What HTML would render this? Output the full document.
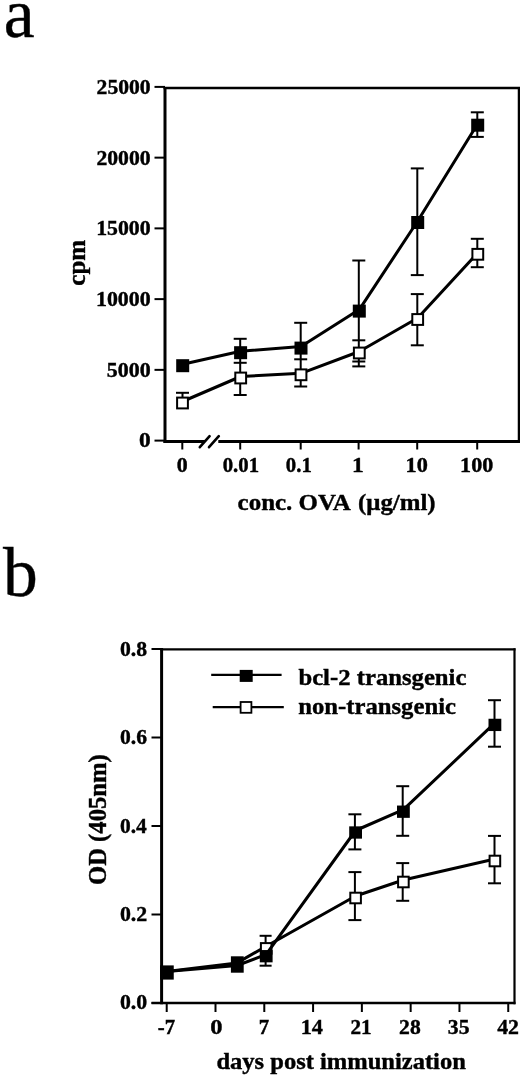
<!DOCTYPE html>
<html><head><meta charset="utf-8"><style>
html,body{margin:0;padding:0;background:#fff;}
svg{display:block;will-change:transform;}
text{font-family:"Liberation Serif",serif;fill:#000;stroke:#000;stroke-width:0.4px;}
</style></head><body>
<svg width="520" height="1077" viewBox="0 0 520 1077">
<text x="3.8" y="37.2" font-size="69.5" font-weight="normal">a</text>
<text x="2.9" y="596" font-size="69.5" font-weight="normal">b</text>
<g stroke="#000" fill="none">
<line x1="165.00" y1="87.00" x2="165.00" y2="443.00" stroke-width="3" stroke-linecap="butt"/>
<line x1="163.50" y1="88.00" x2="520.00" y2="88.00" stroke-width="2.5" stroke-linecap="butt"/>
<line x1="519.00" y1="87.00" x2="519.00" y2="443.00" stroke-width="2.5" stroke-linecap="butt"/>
<line x1="163.50" y1="441.50" x2="205.00" y2="441.50" stroke-width="3" stroke-linecap="butt"/>
<line x1="218.30" y1="441.50" x2="520.00" y2="441.50" stroke-width="3" stroke-linecap="butt"/>
<line x1="199.80" y1="447.20" x2="209.60" y2="436.20" stroke-width="2.6" stroke-linecap="round"/>
<line x1="209.00" y1="447.20" x2="218.80" y2="436.20" stroke-width="2.6" stroke-linecap="round"/>
<line x1="154.50" y1="440.60" x2="165.00" y2="440.60" stroke-width="2" stroke-linecap="butt"/>
<line x1="154.50" y1="369.86" x2="165.00" y2="369.86" stroke-width="2" stroke-linecap="butt"/>
<line x1="154.50" y1="299.12" x2="165.00" y2="299.12" stroke-width="2" stroke-linecap="butt"/>
<line x1="154.50" y1="228.38" x2="165.00" y2="228.38" stroke-width="2" stroke-linecap="butt"/>
<line x1="154.50" y1="157.64" x2="165.00" y2="157.64" stroke-width="2" stroke-linecap="butt"/>
<line x1="154.50" y1="86.90" x2="165.00" y2="86.90" stroke-width="2" stroke-linecap="butt"/>
<line x1="182.30" y1="441.50" x2="182.30" y2="449.50" stroke-width="2" stroke-linecap="butt"/>
<line x1="240.20" y1="441.50" x2="240.20" y2="449.50" stroke-width="2" stroke-linecap="butt"/>
<line x1="300.70" y1="441.50" x2="300.70" y2="449.50" stroke-width="2" stroke-linecap="butt"/>
<line x1="358.60" y1="441.50" x2="358.60" y2="449.50" stroke-width="2" stroke-linecap="butt"/>
<line x1="417.20" y1="441.50" x2="417.20" y2="449.50" stroke-width="2" stroke-linecap="butt"/>
<line x1="477.20" y1="441.50" x2="477.20" y2="449.50" stroke-width="2" stroke-linecap="butt"/>
</g>
<text x="96.64" y="94.30" font-size="20.3" font-weight="bold" textLength="54.03" lengthAdjust="spacingAndGlyphs">25000</text>
<text x="96.43" y="165.20" font-size="20.3" font-weight="bold" textLength="54.24" lengthAdjust="spacingAndGlyphs">20000</text>
<text x="96.16" y="235.40" font-size="20.3" font-weight="bold" textLength="54.52" lengthAdjust="spacingAndGlyphs">15000</text>
<text x="95.95" y="306.30" font-size="20.3" font-weight="bold" textLength="54.73" lengthAdjust="spacingAndGlyphs">10000</text>
<text x="106.82" y="377.30" font-size="20.3" font-weight="bold" textLength="43.85" lengthAdjust="spacingAndGlyphs">5000</text>
<text x="139.07" y="447.00" font-size="20.3" font-weight="bold" textLength="11.67" lengthAdjust="spacingAndGlyphs">0</text>
<text x="176.82" y="472.00" font-size="20.3" font-weight="bold" textLength="10.95" lengthAdjust="spacingAndGlyphs">0</text>
<text x="222.67" y="472.00" font-size="20.3" font-weight="bold" textLength="36.37" lengthAdjust="spacingAndGlyphs">0.01</text>
<text x="285.87" y="472.00" font-size="20.3" font-weight="bold" textLength="25.97" lengthAdjust="spacingAndGlyphs">0.1</text>
<text x="352.12" y="472.00" font-size="20.3" font-weight="bold" textLength="11.76" lengthAdjust="spacingAndGlyphs">1</text>
<text x="405.52" y="472.00" font-size="20.3" font-weight="bold" textLength="22.27" lengthAdjust="spacingAndGlyphs">10</text>
<text x="460.14" y="472.00" font-size="20.3" font-weight="bold" textLength="33.04" lengthAdjust="spacingAndGlyphs">100</text>
<text x="237.63" y="509.80" font-size="24.0" font-weight="bold" textLength="113.15" lengthAdjust="spacingAndGlyphs">conc. OVA</text>
<text x="358.08" y="509.80" font-size="24.0" font-weight="bold" textLength="77.55" lengthAdjust="spacingAndGlyphs">(μg/ml)</text>
<text transform="translate(84.75,284.80) rotate(-90)" x="-0.88" y="0" font-size="25.5" font-weight="bold" textLength="45.83" lengthAdjust="spacingAndGlyphs">cpm</text>
<g stroke="#000" fill="none">
<line x1="182.50" y1="392.80" x2="182.50" y2="398.00" stroke-width="2" stroke-linecap="butt"/>
<line x1="176.00" y1="392.80" x2="189.00" y2="392.80" stroke-width="2" stroke-linecap="butt"/>
<line x1="240.20" y1="338.80" x2="240.20" y2="395.00" stroke-width="2" stroke-linecap="butt"/>
<line x1="233.70" y1="338.80" x2="246.70" y2="338.80" stroke-width="2" stroke-linecap="butt"/>
<line x1="233.70" y1="362.80" x2="246.70" y2="362.80" stroke-width="2" stroke-linecap="butt"/>
<line x1="233.70" y1="395.00" x2="246.70" y2="395.00" stroke-width="2" stroke-linecap="butt"/>
<line x1="300.70" y1="322.80" x2="300.70" y2="386.50" stroke-width="2" stroke-linecap="butt"/>
<line x1="294.20" y1="322.80" x2="307.20" y2="322.80" stroke-width="2" stroke-linecap="butt"/>
<line x1="294.20" y1="359.30" x2="307.20" y2="359.30" stroke-width="2" stroke-linecap="butt"/>
<line x1="294.20" y1="386.50" x2="307.20" y2="386.50" stroke-width="2" stroke-linecap="butt"/>
<line x1="358.80" y1="260.50" x2="358.80" y2="366.40" stroke-width="2" stroke-linecap="butt"/>
<line x1="352.30" y1="260.50" x2="365.30" y2="260.50" stroke-width="2" stroke-linecap="butt"/>
<line x1="352.30" y1="340.30" x2="365.30" y2="340.30" stroke-width="2" stroke-linecap="butt"/>
<line x1="352.30" y1="361.50" x2="365.30" y2="361.50" stroke-width="2" stroke-linecap="butt"/>
<line x1="352.30" y1="366.40" x2="365.30" y2="366.40" stroke-width="2" stroke-linecap="butt"/>
<line x1="417.30" y1="168.40" x2="417.30" y2="275.10" stroke-width="2" stroke-linecap="butt"/>
<line x1="410.80" y1="168.40" x2="423.80" y2="168.40" stroke-width="2" stroke-linecap="butt"/>
<line x1="410.80" y1="275.10" x2="423.80" y2="275.10" stroke-width="2" stroke-linecap="butt"/>
<line x1="417.30" y1="294.10" x2="417.30" y2="345.30" stroke-width="2" stroke-linecap="butt"/>
<line x1="410.80" y1="294.10" x2="423.80" y2="294.10" stroke-width="2" stroke-linecap="butt"/>
<line x1="410.80" y1="345.30" x2="423.80" y2="345.30" stroke-width="2" stroke-linecap="butt"/>
<line x1="477.30" y1="112.30" x2="477.30" y2="136.90" stroke-width="2" stroke-linecap="butt"/>
<line x1="470.80" y1="112.30" x2="483.80" y2="112.30" stroke-width="2" stroke-linecap="butt"/>
<line x1="470.80" y1="136.90" x2="483.80" y2="136.90" stroke-width="2" stroke-linecap="butt"/>
<line x1="477.30" y1="238.80" x2="477.30" y2="267.20" stroke-width="2" stroke-linecap="butt"/>
<line x1="470.80" y1="238.80" x2="483.80" y2="238.80" stroke-width="2" stroke-linecap="butt"/>
<line x1="470.80" y1="267.20" x2="483.80" y2="267.20" stroke-width="2" stroke-linecap="butt"/>
<polyline points="182.50,401.50 240.70,376.50 301.00,373.30 359.30,351.50 417.70,318.00 477.80,252.80" fill="none" stroke-width="3" stroke-linejoin="round"/>
<polyline points="182.70,364.20 240.60,351.20 301.00,346.60 359.30,309.60 417.70,221.00 477.70,123.70" fill="none" stroke-width="3" stroke-linejoin="round"/>
<rect x="177.10" y="397.60" width="10.80" height="10.80" fill="#fff" stroke-width="2.0"/>
<rect x="235.30" y="372.60" width="10.80" height="10.80" fill="#fff" stroke-width="2.0"/>
<rect x="295.60" y="369.40" width="10.80" height="10.80" fill="#fff" stroke-width="2.0"/>
<rect x="353.90" y="347.60" width="10.80" height="10.80" fill="#fff" stroke-width="2.0"/>
<rect x="412.30" y="314.10" width="10.80" height="10.80" fill="#fff" stroke-width="2.0"/>
<rect x="472.40" y="248.90" width="10.80" height="10.80" fill="#fff" stroke-width="2.0"/>
<rect x="176.20" y="359.20" width="13" height="13" fill="#000" stroke="none"/>
<rect x="234.10" y="346.20" width="13" height="13" fill="#000" stroke="none"/>
<rect x="294.50" y="341.60" width="13" height="13" fill="#000" stroke="none"/>
<rect x="352.80" y="304.60" width="13" height="13" fill="#000" stroke="none"/>
<rect x="411.20" y="216.00" width="13" height="13" fill="#000" stroke="none"/>
<rect x="471.20" y="118.70" width="13" height="13" fill="#000" stroke="none"/>
</g>
<g stroke="#000" fill="none">
<line x1="161.60" y1="648.00" x2="161.60" y2="1004.30" stroke-width="3" stroke-linecap="butt"/>
<line x1="160.10" y1="649.30" x2="515.50" y2="649.30" stroke-width="2.2" stroke-linecap="butt"/>
<line x1="514.50" y1="648.20" x2="514.50" y2="1004.30" stroke-width="2.2" stroke-linecap="butt"/>
<line x1="151.50" y1="1003.10" x2="515.50" y2="1003.10" stroke-width="2.5" stroke-linecap="butt"/>
<line x1="151.50" y1="1003.00" x2="161.60" y2="1003.00" stroke-width="2" stroke-linecap="butt"/>
<line x1="151.50" y1="914.50" x2="161.60" y2="914.50" stroke-width="2" stroke-linecap="butt"/>
<line x1="151.50" y1="826.00" x2="161.60" y2="826.00" stroke-width="2" stroke-linecap="butt"/>
<line x1="151.50" y1="737.50" x2="161.60" y2="737.50" stroke-width="2" stroke-linecap="butt"/>
<line x1="151.50" y1="649.00" x2="161.60" y2="649.00" stroke-width="2" stroke-linecap="butt"/>
<line x1="166.71" y1="1003.10" x2="166.71" y2="1012.00" stroke-width="2" stroke-linecap="butt"/>
<line x1="215.50" y1="1003.10" x2="215.50" y2="1012.00" stroke-width="2" stroke-linecap="butt"/>
<line x1="264.29" y1="1003.10" x2="264.29" y2="1012.00" stroke-width="2" stroke-linecap="butt"/>
<line x1="313.08" y1="1003.10" x2="313.08" y2="1012.00" stroke-width="2" stroke-linecap="butt"/>
<line x1="361.87" y1="1003.10" x2="361.87" y2="1012.00" stroke-width="2" stroke-linecap="butt"/>
<line x1="410.66" y1="1003.10" x2="410.66" y2="1012.00" stroke-width="2" stroke-linecap="butt"/>
<line x1="459.45" y1="1003.10" x2="459.45" y2="1012.00" stroke-width="2" stroke-linecap="butt"/>
<line x1="508.24" y1="1003.10" x2="508.24" y2="1012.00" stroke-width="2" stroke-linecap="butt"/>
</g>
<text x="119.93" y="656.00" font-size="21.3" font-weight="bold" textLength="27.13" lengthAdjust="spacingAndGlyphs">0.8</text>
<text x="119.94" y="744.00" font-size="21.3" font-weight="bold" textLength="27.01" lengthAdjust="spacingAndGlyphs">0.6</text>
<text x="119.94" y="833.40" font-size="21.3" font-weight="bold" textLength="26.79" lengthAdjust="spacingAndGlyphs">0.4</text>
<text x="119.92" y="921.10" font-size="21.3" font-weight="bold" textLength="27.36" lengthAdjust="spacingAndGlyphs">0.2</text>
<text x="119.93" y="1009.40" font-size="21.3" font-weight="bold" textLength="27.24" lengthAdjust="spacingAndGlyphs">0.0</text>
<text x="157.77" y="1034.20" font-size="21.3" font-weight="bold" textLength="17.31" lengthAdjust="spacingAndGlyphs">-7</text>
<text x="210.22" y="1034.20" font-size="21.3" font-weight="bold" textLength="12.26" lengthAdjust="spacingAndGlyphs">0</text>
<text x="258.85" y="1034.20" font-size="21.3" font-weight="bold" textLength="10.42" lengthAdjust="spacingAndGlyphs">7</text>
<text x="300.72" y="1034.20" font-size="21.3" font-weight="bold" textLength="22.22" lengthAdjust="spacingAndGlyphs">14</text>
<text x="350.40" y="1034.20" font-size="21.3" font-weight="bold" textLength="21.15" lengthAdjust="spacingAndGlyphs">21</text>
<text x="399.14" y="1034.20" font-size="21.3" font-weight="bold" textLength="21.62" lengthAdjust="spacingAndGlyphs">28</text>
<text x="447.89" y="1034.20" font-size="21.3" font-weight="bold" textLength="21.62" lengthAdjust="spacingAndGlyphs">35</text>
<text x="497.17" y="1034.20" font-size="21.3" font-weight="bold" textLength="21.81" lengthAdjust="spacingAndGlyphs">42</text>
<text x="216.42" y="1069.20" font-size="24.0" font-weight="bold" textLength="249.44" lengthAdjust="spacingAndGlyphs">days post immunization</text>
<text transform="translate(106.40,883.80) rotate(-90)" x="-1.23" y="0" font-size="25.3" font-weight="bold" textLength="130.75" lengthAdjust="spacingAndGlyphs">OD (405nm)</text>
<g stroke="#000" fill="none">
<line x1="211.20" y1="674.90" x2="281.60" y2="674.90" stroke-width="2.3" stroke-linecap="butt"/>
<line x1="212.70" y1="707.20" x2="283.80" y2="707.20" stroke-width="2.3" stroke-linecap="butt"/>
<rect x="239.70" y="669.90" width="13" height="12" fill="#000" stroke="none"/>
<rect x="240.60" y="702.00" width="10.80" height="10.80" fill="#fff" stroke-width="1.8"/>
</g>
<text x="298.43" y="685.10" font-size="24.0" font-weight="bold" textLength="167.98" lengthAdjust="spacingAndGlyphs">bcl-2 transgenic</text>
<text x="298.18" y="713.50" font-size="24.0" font-weight="bold" textLength="157.82" lengthAdjust="spacingAndGlyphs">non-transgenic</text>
<g stroke="#000" fill="none">
<line x1="265.60" y1="935.80" x2="265.60" y2="965.70" stroke-width="2" stroke-linecap="butt"/>
<line x1="259.60" y1="935.80" x2="271.60" y2="935.80" stroke-width="2" stroke-linecap="butt"/>
<line x1="259.60" y1="965.70" x2="271.60" y2="965.70" stroke-width="2" stroke-linecap="butt"/>
<line x1="354.90" y1="814.30" x2="354.90" y2="849.40" stroke-width="2" stroke-linecap="butt"/>
<line x1="348.40" y1="814.30" x2="361.40" y2="814.30" stroke-width="2" stroke-linecap="butt"/>
<line x1="348.40" y1="849.40" x2="361.40" y2="849.40" stroke-width="2" stroke-linecap="butt"/>
<line x1="354.90" y1="872.10" x2="354.90" y2="920.10" stroke-width="2" stroke-linecap="butt"/>
<line x1="348.40" y1="872.10" x2="361.40" y2="872.10" stroke-width="2" stroke-linecap="butt"/>
<line x1="348.40" y1="920.10" x2="361.40" y2="920.10" stroke-width="2" stroke-linecap="butt"/>
<line x1="402.70" y1="786.20" x2="402.70" y2="835.80" stroke-width="2" stroke-linecap="butt"/>
<line x1="396.20" y1="786.20" x2="409.20" y2="786.20" stroke-width="2" stroke-linecap="butt"/>
<line x1="396.20" y1="835.80" x2="409.20" y2="835.80" stroke-width="2" stroke-linecap="butt"/>
<line x1="402.70" y1="863.10" x2="402.70" y2="900.80" stroke-width="2" stroke-linecap="butt"/>
<line x1="396.20" y1="863.10" x2="409.20" y2="863.10" stroke-width="2" stroke-linecap="butt"/>
<line x1="396.20" y1="900.80" x2="409.20" y2="900.80" stroke-width="2" stroke-linecap="butt"/>
<line x1="494.50" y1="700.20" x2="494.50" y2="746.70" stroke-width="2" stroke-linecap="butt"/>
<line x1="488.00" y1="700.20" x2="501.00" y2="700.20" stroke-width="2" stroke-linecap="butt"/>
<line x1="488.00" y1="746.70" x2="501.00" y2="746.70" stroke-width="2" stroke-linecap="butt"/>
<line x1="494.50" y1="835.90" x2="494.50" y2="883.30" stroke-width="2" stroke-linecap="butt"/>
<line x1="488.00" y1="835.90" x2="501.00" y2="835.90" stroke-width="2" stroke-linecap="butt"/>
<line x1="488.00" y1="883.30" x2="501.00" y2="883.30" stroke-width="2" stroke-linecap="butt"/>
<polyline points="166.80,971.50 237.10,962.90 266.20,946.20 355.60,896.00 403.40,880.00 494.90,859.00" fill="none" stroke-width="3" stroke-linejoin="round"/>
<rect x="260.90" y="943.10" width="10.60" height="10.60" fill="#fff" stroke-width="2.0"/>
<rect x="350.30" y="892.70" width="10.60" height="10.60" fill="#fff" stroke-width="2.0"/>
<rect x="398.10" y="876.70" width="10.60" height="10.60" fill="#fff" stroke-width="2.0"/>
<rect x="489.60" y="855.70" width="10.60" height="10.60" fill="#fff" stroke-width="2.0"/>
<polyline points="166.80,971.50 237.10,965.50 266.20,954.40 355.60,830.50 403.40,809.70 494.90,722.90" fill="none" stroke-width="3" stroke-linejoin="round"/>
<rect x="259.80" y="950.05" width="12.8" height="12.3" fill="#000" stroke="none"/>
<rect x="349.20" y="826.35" width="12.8" height="12.3" fill="#000" stroke="none"/>
<rect x="397.00" y="805.55" width="12.8" height="12.3" fill="#000" stroke="none"/>
<rect x="488.50" y="718.75" width="12.8" height="12.3" fill="#000" stroke="none"/>
<rect x="160.05" y="965.40" width="13.7" height="14.2" fill="#000" stroke="none"/>
<rect x="230.90" y="956.30" width="12.8" height="16.4" fill="#000" stroke="none"/>
</g>
</svg>
</body></html>
